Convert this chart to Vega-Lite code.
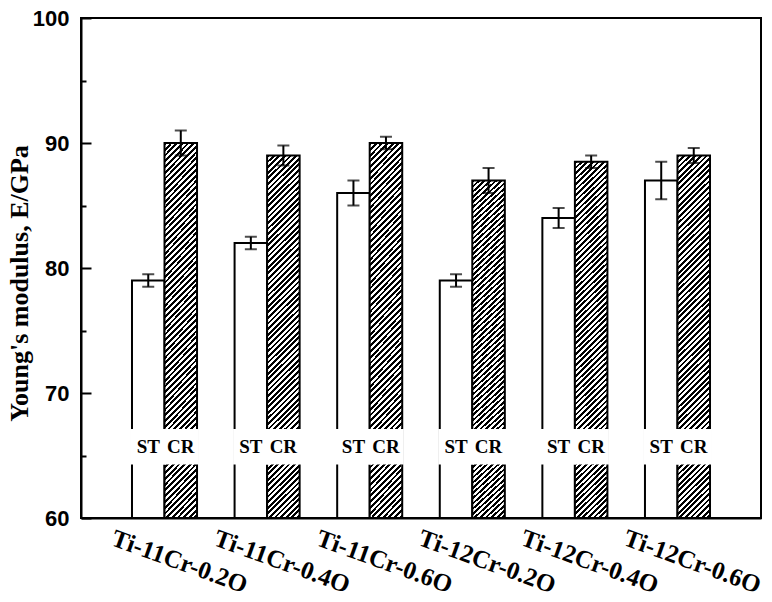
{
 "$schema": "https://vega.github.io/schema/vega-lite/v6.json",
 "width": 680,
 "height": 500,
 "autosize": {"type": "none"},
 "padding": {"left": 81, "top": 18, "right": 11, "bottom": 84},
 "background": "white",
 "config": {
  "view": {"stroke": "black", "strokeWidth": 2},
  "axis": {"domainColor": "black", "domainWidth": 2, "tickColor": "black", "tickWidth": 2, "grid": false, "labelColor": "black", "titleColor": "black"}
 },
 "data": {"values": [
  {"alloy": "Ti-11Cr-0.2O", "cond": "ST", "value": 79, "lo": 78.5, "hi": 79.5},
  {"alloy": "Ti-11Cr-0.2O", "cond": "CR", "value": 90, "lo": 89, "hi": 91},
  {"alloy": "Ti-11Cr-0.4O", "cond": "ST", "value": 82, "lo": 81.5, "hi": 82.5},
  {"alloy": "Ti-11Cr-0.4O", "cond": "CR", "value": 89, "lo": 88.2, "hi": 89.8},
  {"alloy": "Ti-11Cr-0.6O", "cond": "ST", "value": 86, "lo": 85, "hi": 87},
  {"alloy": "Ti-11Cr-0.6O", "cond": "CR", "value": 90, "lo": 89.5, "hi": 90.5},
  {"alloy": "Ti-12Cr-0.2O", "cond": "ST", "value": 79, "lo": 78.5, "hi": 79.5},
  {"alloy": "Ti-12Cr-0.2O", "cond": "CR", "value": 87, "lo": 86, "hi": 88},
  {"alloy": "Ti-12Cr-0.4O", "cond": "ST", "value": 84, "lo": 83.2, "hi": 84.8},
  {"alloy": "Ti-12Cr-0.4O", "cond": "CR", "value": 88.5, "lo": 88, "hi": 89},
  {"alloy": "Ti-12Cr-0.6O", "cond": "ST", "value": 87, "lo": 85.5, "hi": 88.5},
  {"alloy": "Ti-12Cr-0.6O", "cond": "CR", "value": 89, "lo": 88.4, "hi": 89.6}
 ]},
 "encoding": {
  "x": {"field": "alloy", "type": "nominal", "sort": null,
   "scale": {"paddingInner": 0.366, "paddingOuter": 0.497},
   "axis": {"title": null, "ticks": false, "labelAngle": 20, "labelAlign": "center", "labelBaseline": "middle", "labelOffset": 15, "labelPadding": 43, "labelFont": "Liberation Serif", "labelFontSize": 25, "labelFontWeight": "bold"}},
  "xOffset": {"field": "cond", "type": "nominal", "scale": {"domain": ["ST", "CR"], "paddingInner": 0, "paddingOuter": 0}}
 },
 "layer": [
  {
   "transform": [{"filter": "datum.cond === 'ST'"}],
   "mark": {"type": "bar", "fill": "white", "stroke": "black", "strokeWidth": 2},
   "encoding": {
    "y": {"field": "value", "type": "quantitative", "scale": {"domain": [60, 100], "nice": false, "zero": false},
     "axis": {"values": [60, 65, 70, 75, 80, 85, 90, 95, 100],
      "labelExpr": "datum.value % 10 === 0 ? datum.label : ''",
      "tickSize": {"condition": {"test": "datum.value % 10 === 0", "value": -10}, "value": -5},
      "labelPadding": 22, "labelFlush": false, "labelOverlap": false, "labelBound": false,
      "labelFont": "Liberation Sans", "labelFontSize": 22, "labelFontWeight": "bold",
      "title": "Young's modulus, E/GPa", "titleFont": "Liberation Serif", "titleFontSize": 26, "titleFontWeight": "bold",
      "titleX": -54, "titleY": 265, "titleBaseline": "alphabetic", "titleAngle": -90, "titleAlign": "center"}},
    "y2": {"datum": 60}
   }
  },
  {
   "transform": [{"filter": "datum.cond === 'CR'"}],
   "mark": {"type": "bar", "stroke": "black", "strokeWidth": 2,
    "fill": {"gradient": "linear", "x1": 0, "y1": 0, "x2": 0.098, "y2": 1.1, "stops": [
{"offset":0,"color":"#000"},
{"offset":0.00694,"color":"#000"},{"offset":0.00694,"color":"#fff"},
{"offset":0.01389,"color":"#fff"},{"offset":0.01389,"color":"#000"},
{"offset":0.02083,"color":"#000"},{"offset":0.02083,"color":"#fff"},
{"offset":0.02778,"color":"#fff"},{"offset":0.02778,"color":"#000"},
{"offset":0.03472,"color":"#000"},{"offset":0.03472,"color":"#fff"},
{"offset":0.04167,"color":"#fff"},{"offset":0.04167,"color":"#000"},
{"offset":0.04861,"color":"#000"},{"offset":0.04861,"color":"#fff"},
{"offset":0.05556,"color":"#fff"},{"offset":0.05556,"color":"#000"},
{"offset":0.0625,"color":"#000"},{"offset":0.0625,"color":"#fff"},
{"offset":0.06944,"color":"#fff"},{"offset":0.06944,"color":"#000"},
{"offset":0.07639,"color":"#000"},{"offset":0.07639,"color":"#fff"},
{"offset":0.08333,"color":"#fff"},{"offset":0.08333,"color":"#000"},
{"offset":0.09028,"color":"#000"},{"offset":0.09028,"color":"#fff"},
{"offset":0.09722,"color":"#fff"},{"offset":0.09722,"color":"#000"},
{"offset":0.10417,"color":"#000"},{"offset":0.10417,"color":"#fff"},
{"offset":0.11111,"color":"#fff"},{"offset":0.11111,"color":"#000"},
{"offset":0.11806,"color":"#000"},{"offset":0.11806,"color":"#fff"},
{"offset":0.125,"color":"#fff"},{"offset":0.125,"color":"#000"},
{"offset":0.13194,"color":"#000"},{"offset":0.13194,"color":"#fff"},
{"offset":0.13889,"color":"#fff"},{"offset":0.13889,"color":"#000"},
{"offset":0.14583,"color":"#000"},{"offset":0.14583,"color":"#fff"},
{"offset":0.15278,"color":"#fff"},{"offset":0.15278,"color":"#000"},
{"offset":0.15972,"color":"#000"},{"offset":0.15972,"color":"#fff"},
{"offset":0.16667,"color":"#fff"},{"offset":0.16667,"color":"#000"},
{"offset":0.17361,"color":"#000"},{"offset":0.17361,"color":"#fff"},
{"offset":0.18056,"color":"#fff"},{"offset":0.18056,"color":"#000"},
{"offset":0.1875,"color":"#000"},{"offset":0.1875,"color":"#fff"},
{"offset":0.19444,"color":"#fff"},{"offset":0.19444,"color":"#000"},
{"offset":0.20139,"color":"#000"},{"offset":0.20139,"color":"#fff"},
{"offset":0.20833,"color":"#fff"},{"offset":0.20833,"color":"#000"},
{"offset":0.21528,"color":"#000"},{"offset":0.21528,"color":"#fff"},
{"offset":0.22222,"color":"#fff"},{"offset":0.22222,"color":"#000"},
{"offset":0.22917,"color":"#000"},{"offset":0.22917,"color":"#fff"},
{"offset":0.23611,"color":"#fff"},{"offset":0.23611,"color":"#000"},
{"offset":0.24306,"color":"#000"},{"offset":0.24306,"color":"#fff"},
{"offset":0.25,"color":"#fff"},{"offset":0.25,"color":"#000"},
{"offset":0.25694,"color":"#000"},{"offset":0.25694,"color":"#fff"},
{"offset":0.26389,"color":"#fff"},{"offset":0.26389,"color":"#000"},
{"offset":0.27083,"color":"#000"},{"offset":0.27083,"color":"#fff"},
{"offset":0.27778,"color":"#fff"},{"offset":0.27778,"color":"#000"},
{"offset":0.28472,"color":"#000"},{"offset":0.28472,"color":"#fff"},
{"offset":0.29167,"color":"#fff"},{"offset":0.29167,"color":"#000"},
{"offset":0.29861,"color":"#000"},{"offset":0.29861,"color":"#fff"},
{"offset":0.30556,"color":"#fff"},{"offset":0.30556,"color":"#000"},
{"offset":0.3125,"color":"#000"},{"offset":0.3125,"color":"#fff"},
{"offset":0.31944,"color":"#fff"},{"offset":0.31944,"color":"#000"},
{"offset":0.32639,"color":"#000"},{"offset":0.32639,"color":"#fff"},
{"offset":0.33333,"color":"#fff"},{"offset":0.33333,"color":"#000"},
{"offset":0.34028,"color":"#000"},{"offset":0.34028,"color":"#fff"},
{"offset":0.34722,"color":"#fff"},{"offset":0.34722,"color":"#000"},
{"offset":0.35417,"color":"#000"},{"offset":0.35417,"color":"#fff"},
{"offset":0.36111,"color":"#fff"},{"offset":0.36111,"color":"#000"},
{"offset":0.36806,"color":"#000"},{"offset":0.36806,"color":"#fff"},
{"offset":0.375,"color":"#fff"},{"offset":0.375,"color":"#000"},
{"offset":0.38194,"color":"#000"},{"offset":0.38194,"color":"#fff"},
{"offset":0.38889,"color":"#fff"},{"offset":0.38889,"color":"#000"},
{"offset":0.39583,"color":"#000"},{"offset":0.39583,"color":"#fff"},
{"offset":0.40278,"color":"#fff"},{"offset":0.40278,"color":"#000"},
{"offset":0.40972,"color":"#000"},{"offset":0.40972,"color":"#fff"},
{"offset":0.41667,"color":"#fff"},{"offset":0.41667,"color":"#000"},
{"offset":0.42361,"color":"#000"},{"offset":0.42361,"color":"#fff"},
{"offset":0.43056,"color":"#fff"},{"offset":0.43056,"color":"#000"},
{"offset":0.4375,"color":"#000"},{"offset":0.4375,"color":"#fff"},
{"offset":0.44444,"color":"#fff"},{"offset":0.44444,"color":"#000"},
{"offset":0.45139,"color":"#000"},{"offset":0.45139,"color":"#fff"},
{"offset":0.45833,"color":"#fff"},{"offset":0.45833,"color":"#000"},
{"offset":0.46528,"color":"#000"},{"offset":0.46528,"color":"#fff"},
{"offset":0.47222,"color":"#fff"},{"offset":0.47222,"color":"#000"},
{"offset":0.47917,"color":"#000"},{"offset":0.47917,"color":"#fff"},
{"offset":0.48611,"color":"#fff"},{"offset":0.48611,"color":"#000"},
{"offset":0.49306,"color":"#000"},{"offset":0.49306,"color":"#fff"},
{"offset":0.5,"color":"#fff"},{"offset":0.5,"color":"#000"},
{"offset":0.50694,"color":"#000"},{"offset":0.50694,"color":"#fff"},
{"offset":0.51389,"color":"#fff"},{"offset":0.51389,"color":"#000"},
{"offset":0.52083,"color":"#000"},{"offset":0.52083,"color":"#fff"},
{"offset":0.52778,"color":"#fff"},{"offset":0.52778,"color":"#000"},
{"offset":0.53472,"color":"#000"},{"offset":0.53472,"color":"#fff"},
{"offset":0.54167,"color":"#fff"},{"offset":0.54167,"color":"#000"},
{"offset":0.54861,"color":"#000"},{"offset":0.54861,"color":"#fff"},
{"offset":0.55556,"color":"#fff"},{"offset":0.55556,"color":"#000"},
{"offset":0.5625,"color":"#000"},{"offset":0.5625,"color":"#fff"},
{"offset":0.56944,"color":"#fff"},{"offset":0.56944,"color":"#000"},
{"offset":0.57639,"color":"#000"},{"offset":0.57639,"color":"#fff"},
{"offset":0.58333,"color":"#fff"},{"offset":0.58333,"color":"#000"},
{"offset":0.59028,"color":"#000"},{"offset":0.59028,"color":"#fff"},
{"offset":0.59722,"color":"#fff"},{"offset":0.59722,"color":"#000"},
{"offset":0.60417,"color":"#000"},{"offset":0.60417,"color":"#fff"},
{"offset":0.61111,"color":"#fff"},{"offset":0.61111,"color":"#000"},
{"offset":0.61806,"color":"#000"},{"offset":0.61806,"color":"#fff"},
{"offset":0.625,"color":"#fff"},{"offset":0.625,"color":"#000"},
{"offset":0.63194,"color":"#000"},{"offset":0.63194,"color":"#fff"},
{"offset":0.63889,"color":"#fff"},{"offset":0.63889,"color":"#000"},
{"offset":0.64583,"color":"#000"},{"offset":0.64583,"color":"#fff"},
{"offset":0.65278,"color":"#fff"},{"offset":0.65278,"color":"#000"},
{"offset":0.65972,"color":"#000"},{"offset":0.65972,"color":"#fff"},
{"offset":0.66667,"color":"#fff"},{"offset":0.66667,"color":"#000"},
{"offset":0.67361,"color":"#000"},{"offset":0.67361,"color":"#fff"},
{"offset":0.68056,"color":"#fff"},{"offset":0.68056,"color":"#000"},
{"offset":0.6875,"color":"#000"},{"offset":0.6875,"color":"#fff"},
{"offset":0.69444,"color":"#fff"},{"offset":0.69444,"color":"#000"},
{"offset":0.70139,"color":"#000"},{"offset":0.70139,"color":"#fff"},
{"offset":0.70833,"color":"#fff"},{"offset":0.70833,"color":"#000"},
{"offset":0.71528,"color":"#000"},{"offset":0.71528,"color":"#fff"},
{"offset":0.72222,"color":"#fff"},{"offset":0.72222,"color":"#000"},
{"offset":0.72917,"color":"#000"},{"offset":0.72917,"color":"#fff"},
{"offset":0.73611,"color":"#fff"},{"offset":0.73611,"color":"#000"},
{"offset":0.74306,"color":"#000"},{"offset":0.74306,"color":"#fff"},
{"offset":0.75,"color":"#fff"},{"offset":0.75,"color":"#000"},
{"offset":0.75694,"color":"#000"},{"offset":0.75694,"color":"#fff"},
{"offset":0.76389,"color":"#fff"},{"offset":0.76389,"color":"#000"},
{"offset":0.77083,"color":"#000"},{"offset":0.77083,"color":"#fff"},
{"offset":0.77778,"color":"#fff"},{"offset":0.77778,"color":"#000"},
{"offset":0.78472,"color":"#000"},{"offset":0.78472,"color":"#fff"},
{"offset":0.79167,"color":"#fff"},{"offset":0.79167,"color":"#000"},
{"offset":0.79861,"color":"#000"},{"offset":0.79861,"color":"#fff"},
{"offset":0.80556,"color":"#fff"},{"offset":0.80556,"color":"#000"},
{"offset":0.8125,"color":"#000"},{"offset":0.8125,"color":"#fff"},
{"offset":0.81944,"color":"#fff"},{"offset":0.81944,"color":"#000"},
{"offset":0.82639,"color":"#000"},{"offset":0.82639,"color":"#fff"},
{"offset":0.83333,"color":"#fff"},{"offset":0.83333,"color":"#000"},
{"offset":0.84028,"color":"#000"},{"offset":0.84028,"color":"#fff"},
{"offset":0.84722,"color":"#fff"},{"offset":0.84722,"color":"#000"},
{"offset":0.85417,"color":"#000"},{"offset":0.85417,"color":"#fff"},
{"offset":0.86111,"color":"#fff"},{"offset":0.86111,"color":"#000"},
{"offset":0.86806,"color":"#000"},{"offset":0.86806,"color":"#fff"},
{"offset":0.875,"color":"#fff"},{"offset":0.875,"color":"#000"},
{"offset":0.88194,"color":"#000"},{"offset":0.88194,"color":"#fff"},
{"offset":0.88889,"color":"#fff"},{"offset":0.88889,"color":"#000"},
{"offset":0.89583,"color":"#000"},{"offset":0.89583,"color":"#fff"},
{"offset":0.90278,"color":"#fff"},{"offset":0.90278,"color":"#000"},
{"offset":0.90972,"color":"#000"},{"offset":0.90972,"color":"#fff"},
{"offset":0.91667,"color":"#fff"},{"offset":0.91667,"color":"#000"},
{"offset":0.92361,"color":"#000"},{"offset":0.92361,"color":"#fff"},
{"offset":0.93056,"color":"#fff"},{"offset":0.93056,"color":"#000"},
{"offset":0.9375,"color":"#000"},{"offset":0.9375,"color":"#fff"},
{"offset":0.94444,"color":"#fff"},{"offset":0.94444,"color":"#000"},
{"offset":0.95139,"color":"#000"},{"offset":0.95139,"color":"#fff"},
{"offset":0.95833,"color":"#fff"},{"offset":0.95833,"color":"#000"},
{"offset":0.96528,"color":"#000"},{"offset":0.96528,"color":"#fff"},
{"offset":0.97222,"color":"#fff"},{"offset":0.97222,"color":"#000"},
{"offset":0.97917,"color":"#000"},{"offset":0.97917,"color":"#fff"},
{"offset":0.98611,"color":"#fff"},{"offset":0.98611,"color":"#000"},
{"offset":0.99306,"color":"#000"},{"offset":0.99306,"color":"#fff"},
{"offset":1,"color":"#fff"}
    ]}},
   "encoding": {
    "y": {"field": "value", "type": "quantitative", "scale": {"domain": [60, 100], "nice": false, "zero": false}},
    "y2": {"datum": 60}
   }
  },
  {
   "mark": {"type": "bar", "fill": "white", "stroke": "white", "strokeWidth": 3},
   "encoding": {
    "y": {"datum": 64.4, "type": "quantitative", "scale": {"domain": [60, 100], "nice": false, "zero": false}},
    "y2": {"datum": 67.0}
   }
  },
  {
   "mark": {"type": "text", "font": "Liberation Serif", "fontSize": 19, "fontWeight": "bold", "baseline": "middle", "align": "center", "color": "black"},
   "encoding": {
    "y": {"datum": 65.65, "type": "quantitative", "scale": {"domain": [60, 100], "nice": false, "zero": false}},
    "text": {"field": "cond"}
   }
  },
  {
   "mark": {"type": "rule", "strokeWidth": 2, "color": "black"},
   "encoding": {
    "y": {"field": "lo", "type": "quantitative", "scale": {"domain": [60, 100], "nice": false, "zero": false}},
    "y2": {"field": "hi"}
   }
  },
  {
   "mark": {"type": "tick", "size": 12, "thickness": 2, "color": "black"},
   "encoding": {
    "y": {"field": "lo", "type": "quantitative", "scale": {"domain": [60, 100], "nice": false, "zero": false}}
   }
  },
  {
   "mark": {"type": "tick", "size": 12, "thickness": 2, "color": "black"},
   "encoding": {
    "y": {"field": "hi", "type": "quantitative", "scale": {"domain": [60, 100], "nice": false, "zero": false}}
   }
  }
 ]
}
